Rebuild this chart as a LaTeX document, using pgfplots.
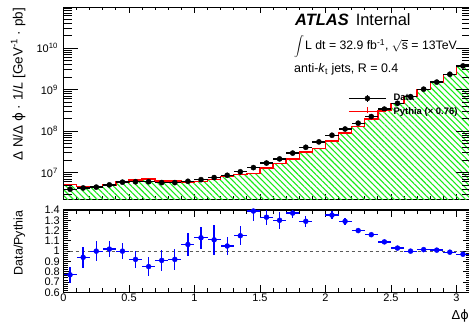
\documentclass[border=0pt]{standalone}
\usepackage{fontspec}
\setmainfont{Liberation Sans}
\newfontfamily\dejavu{DejaVu Sans}
\usepackage{pgfplots}
\pgfplotsset{compat=1.18}
\usetikzlibrary{patterns,patterns.meta}
\definecolor{hgreen}{RGB}{25,235,25}
\definecolor{dashgray}{RGB}{90,90,90}
\newcommand{\vphi}{{\dejavu ϕ}}
\begin{document}
\begin{tikzpicture}
\path[use as bounding box] (0bp,0bp) rectangle (469bp,322bp);
% ---------------- top panel (plots, x ticks) ----------------
\begin{axis}[at={(63.5bp,122.5bp)}, anchor=south west, scale only axis,
  width=406bp, height=192bp,
  xmin=0, xmax=3.1, ymode=log, ymin=2.25e6, ymax=9.5e10,
  xtick={0,0.5,1,1.5,2,2.5,3}, minor x tick num=4, xticklabels={},
  ytick=\empty,
  major tick length=6bp, minor tick length=3bp,
  axis line style={line width=1.2bp},
  every tick/.append style={black, line width=0.8bp},
  reverse legend,
  legend cell align=left,
  legend style={at={(0.7007,0.551)}, anchor=north west, draw=none, fill=none,
    inner sep=0pt, row sep=3.7bp,
    font=\bfseries\fontsize{9.5}{10}\selectfont,
    nodes={inner sep=0pt, text height=7bp, text depth=2bp}},
]
\addplot[draw=none, fill=none, pattern={Lines[angle=-45,distance=4.2bp,line width=1.1bp]}, pattern color=hgreen, const plot, forget plot]
 coordinates {(0,5.13e6) (0.1,4.57e6) (0.2,4.47e6) (0.3,5.01e6) (0.4,5.89e6)
 (0.5,6.61e6) (0.6,7.08e6) (0.7,6.31e6) (0.8,6.31e6) (0.9,5.75e6)
 (1.0,6.03e6) (1.1,6.76e6) (1.2,8.13e6) (1.3,9.12e6) (1.4,9.55e6)
 (1.5,1.288e7) (1.6,1.660e7) (1.7,2.138e7) (1.8,3.162e7) (1.9,3.76e7)
 (2.0,5.754e7) (2.1,8.913e7) (2.2,1.288e8) (2.3,1.950e8) (2.4,3.090e8)
 (2.5,4.571e8) (2.6,6.761e8) (2.7,1.0e9) (2.8,1.514e9) (2.9,2.344e9)
 (3.0,3.802e9) (3.1,3.802e9) (3.1,1e6) (0,1e6)};
\addplot[red, line width=1.4bp, const plot,
  legend image code/.code={
    \draw[red, line width=1.4bp] (0bp,0bp) -- (37bp,0bp);
    \draw[red, line width=1.3bp] (18.5bp,-1.7bp) -- (18.5bp,4.3bp);
    \path (44bp,0bp);}]
 coordinates {(0,5.13e6) (0.1,4.57e6) (0.2,4.47e6) (0.3,5.01e6) (0.4,5.89e6)
 (0.5,6.61e6) (0.6,7.08e6) (0.7,6.31e6) (0.8,6.31e6) (0.9,5.75e6)
 (1.0,6.03e6) (1.1,6.76e6) (1.2,8.13e6) (1.3,9.12e6) (1.4,9.55e6)
 (1.5,1.288e7) (1.6,1.660e7) (1.7,2.138e7) (1.8,3.162e7) (1.9,3.76e7)
 (2.0,5.754e7) (2.1,8.913e7) (2.2,1.288e8) (2.3,1.950e8) (2.4,3.090e8)
 (2.5,4.571e8) (2.6,6.761e8) (2.7,1.0e9) (2.8,1.514e9) (2.9,2.344e9)
 (3.0,3.802e9) (3.1,3.802e9)};
\addlegendentry{Pythia (× 0.76)}
\addplot[black, only marks, mark=*, mark size=2.6bp,
  legend image code/.code={
    \draw[black, line width=1.4bp] (0bp,0bp) -- (37bp,0bp);
    \draw[black, line width=1.4bp] (18.5bp,-3.2bp) -- (18.5bp,3.2bp);
    \fill[black] (18.5bp,0bp) circle (2.6bp);
    \path (44bp,0bp);},
  error bars/.cd, x dir=both, x fixed=0.05,
  error bar style={line width=1.3bp, black}, error mark=none]
 coordinates {(0.05,3.98e6) (0.15,4.27e6) (0.25,4.47e6) (0.35,5.07e6) (0.45,5.89e6)
 (0.55,6.03e6) (0.65,6.03e6) (0.75,5.75e6) (0.85,5.75e6) (0.95,6.17e6)
 (1.05,6.76e6) (1.15,7.59e6) (1.25,8.61e6) (1.35,1.047e7) (1.45,1.318e7)
 (1.55,1.698e7) (1.65,2.138e7) (1.75,2.951e7) (1.85,4.074e7) (1.95,5.495e7)
 (2.05,7.943e7) (2.15,1.122e8) (2.25,1.549e8) (2.35,2.239e8) (2.45,3.388e8)
 (2.55,4.677e8) (2.65,6.761e8) (2.75,1.023e9) (2.85,1.514e9) (2.95,2.344e9)
 (3.05,3.715e9)};
\addlegendentry{Data}
\end{axis}
% ---------------- top panel y ticks overlay ----------------
\begin{axis}[at={(63.5bp,122.5bp)}, anchor=south west, scale only axis,
  width=406bp, height=192bp,
  xmin=0, xmax=3.1, ymode=log, ymin=2.25e6, ymax=9.5e10,
  hide x axis,
  ytick={1e7,1e8,1e9,1e10},
  yticklabels={10\textsuperscript{7},10\textsuperscript{8},10\textsuperscript{9},10\textsuperscript{10}},
  minor ytick={3e6,4e6,5e6,6e6,7e6,8e6,9e6,
    2e7,3e7,4e7,5e7,6e7,7e7,8e7,9e7,
    2e8,3e8,4e8,5e8,6e8,7e8,8e8,9e8,
    2e9,3e9,4e9,5e9,6e9,7e9,8e9,9e9,
    2e10,3e10,4e10,5e10,6e10,7e10,8e10,9e10},
  major tick length=14bp, minor tick length=8bp,
  axis line style={line width=1.2bp},
  every tick/.append style={black, line width=0.8bp},
  yticklabel style={font=\fontsize{11}{12}\selectfont, inner sep=0pt, xshift=-5.5bp},
]
\end{axis}
% ---------------- ratio panel ----------------
\begin{axis}[at={(63.5bp,29.7bp)}, anchor=south west, scale only axis,
  width=406bp, height=82.3bp,
  xmin=0, xmax=3.1, ymin=0.6, ymax=1.4,
  xtick={0,0.5,1,1.5,2,2.5,3}, xticklabels={0,0.5,1,1.5,2,2.5,3},
  minor x tick num=4,
  ytick={0.6,0.7,0.8,0.9,1,1.1,1.2,1.3,1.4},
  yticklabels={0.6,0.7,0.8,0.9,1,1.1,1.2,1.3,1.4},
  minor y tick num=4,
  major tick length=7bp, minor tick length=4bp,
  axis line style={line width=1.2bp},
  every tick/.append style={black, line width=0.8bp},
  xticklabel style={font=\fontsize{11}{12}\selectfont, inner sep=1.5bp},
  yticklabel style={font=\fontsize{11}{12}\selectfont, inner sep=0pt, xshift=-3.5bp},
]
\addplot[dashgray, line width=1.2bp, dash pattern=on 3bp off 3bp]
 coordinates {(0,1) (3.1,1)};
\addplot[blue, only marks, mark=*, mark size=2.5bp,
  error bars/.cd, x dir=both, x fixed=0.05, y dir=both, y explicit,
  error bar style={line width=1.3bp, blue}, error mark=none]
 coordinates {
 (0.05,0.77) +- (0,0.08)
 (0.15,0.94) +- (0,0.10)
 (0.25,1.00) +- (0,0.10)
 (0.35,1.02) +- (0,0.08)
 (0.45,1.00) +- (0,0.075)
 (0.55,0.92) +- (0,0.08)
 (0.65,0.85) +- (0,0.09)
 (0.75,0.91) +- (0,0.10)
 (0.85,0.92) +- (0,0.10)
 (0.95,1.065) +- (0,0.11)
 (1.05,1.13) +- (0,0.105)
 (1.15,1.11) +- (0,0.145)
 (1.25,1.05) +- (0,0.09)
 (1.35,1.15) +- (0,0.09)
 (1.45,1.39) +- (0,0.10)
 (1.55,1.33) +- (0,0.08)
 (1.65,1.30) +- (0,0.08)
 (1.75,1.37) +- (0,0.05)
 (1.85,1.29) +- (0,0.055)
 (1.95,1.47) +- (0,0.05)
 (2.05,1.35) +- (0,0.04)
 (2.15,1.29) +- (0,0.035)
 (2.25,1.20) +- (0,0.025)
 (2.35,1.16) +- (0,0.02)
 (2.45,1.09) +- (0,0.02)
 (2.55,1.03) +- (0,0.015)
 (2.65,1.00) +- (0,0.015)
 (2.75,1.015) +- (0,0.012)
 (2.85,1.01) +- (0,0.01)
 (2.95,0.99) +- (0,0.01)
 (3.05,0.97) +- (0,0.01)
 };
\end{axis}
% ---------------- labels ----------------
\node[rotate=90, anchor=base east, inner sep=0pt, font=\fontsize{13.5}{15}\selectfont]
  at (22.5bp,314bp) {Δ N/Δ \vphi{} · 1/\textit{L} [GeV\textsuperscript{-1} · pb]};
\node[rotate=90, anchor=base east, inner sep=0pt, font=\fontsize{12.5}{14}\selectfont]
  at (22.5bp,111.3bp) {Data/Pythia};
\node[anchor=base east, inner sep=0pt, font=\fontsize{13}{14}\selectfont]
  at (469bp,3bp) {Δ\vphi};
\node[anchor=base west, inner sep=0pt, font=\fontsize{16.5}{18}\selectfont]
  at (295bp,296bp) {\textbf{\textit{ATLAS}}\hspace{7bp}Internal};
\node[anchor=base west, inner sep=0pt, font=\fontsize{12.3}{14}\selectfont]
  at (294bp,272bp) {\(\displaystyle\int\)\hspace{1bp}L dt = 32.9 fb\textsuperscript{-1}, \(\sqrt{\mbox{s}}\) = 13TeV};
\node[anchor=base west, inner sep=0pt, font=\fontsize{12.5}{14}\selectfont]
  at (294bp,249.5bp) {anti-\textit{k}\textsubscript{t} jets, R = 0.4};
\end{tikzpicture}
\end{document}
